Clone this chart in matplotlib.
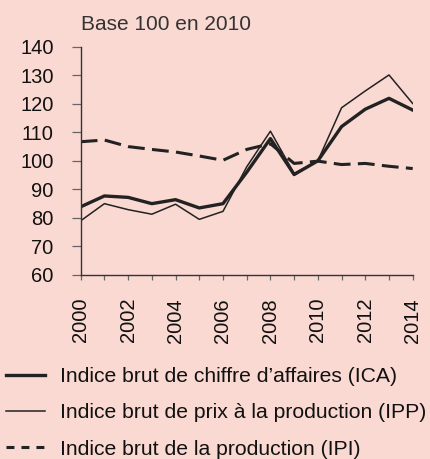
import matplotlib
matplotlib.use("Agg")
import matplotlib.pyplot as plt
from matplotlib.lines import Line2D

plt.rcParams['font.family'] = ['Liberation Sans', 'DejaVu Sans']

years = list(range(2000, 2015))
ica = [83.9, 87.7, 87.2, 85.0, 86.4, 83.5, 85.0, 96.0, 107.8, 95.2, 100.0, 112.0, 118.1, 121.9, 117.8]
ipp = [79.0, 85.0, 82.9, 81.3, 84.8, 79.5, 82.3, 97.9, 110.4, 95.6, 100.0, 118.6, 124.5, 130.1, 120.1]
ipi = [106.7, 107.3, 105.0, 104.0, 103.1, 101.7, 100.2, 104.0, 106.0, 99.1, 99.9, 98.7, 99.1, 98.1, 97.3]
labels = ["Indice brut de chiffre d\u2019affaires (ICA)",
          "Indice brut de prix \u00e0 la production (IPP)",
          "Indice brut de la production (IPI)"]
yticks = [60, 70, 80, 90, 100, 110, 120, 130, 140]
subtitle = "Base 100 en 2010"

bg = "#F9D9D1"
ink = "#222222"
fig = plt.figure(figsize=(4.30, 4.59), dpi=100, facecolor=bg)
ax = fig.add_axes([80.7/430, 1-275/459, 332/430, 228.3/459], facecolor=bg)

l1, = ax.plot(years, ica, color=ink, lw=2.4)
l2, = ax.plot(years, ipp, color=ink, lw=1.1)
l3, = ax.plot(years, ipi, color=ink, lw=2.2, dashes=(5.5, 2.4))

ax.set_xlim(2000, 2014)
ax.set_ylim(60, 140)
ax.set_yticks(yticks)
ax.set_xticks(years)
ax.set_xticklabels([str(y) if y % 2 == 0 else "" for y in years], rotation=90)
for s in ("top", "right"):
    ax.spines[s].set_visible(False)
for s in ("left", "bottom"):
    ax.spines[s].set_color("#333333")
    ax.spines[s].set_linewidth(1.0)
ax.tick_params(axis="both", direction="out", width=0.9, color="#666666",
               labelsize=14.5, labelcolor="#111111")
ax.tick_params(axis="y", length=6.5, pad=13)
ax.tick_params(axis="x", length=3.5, pad=13)

fig.text(81/430, 1-25/459, subtitle, fontsize=15, color="#333333", va="center", ha="left")

h3 = Line2D([], [], color=ink, lw=2.2, dashes=(2.6, 2.3))
leg = fig.legend([l1, l2, h3], labels, loc="upper left", bbox_to_anchor=(6/430, 1-367/459),
                 frameon=False, fontsize=15.2, handlelength=1.85, handletextpad=0.72,
                 labelspacing=0.82, borderaxespad=0, borderpad=0)
for t in leg.get_texts():
    t.set_color("#111111")

fig.savefig("out.png", dpi=100, facecolor=bg)
